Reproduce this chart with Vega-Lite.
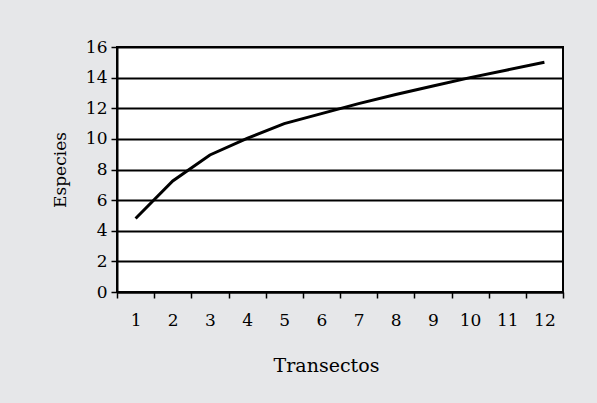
{
  "$schema": "https://vega.github.io/schema/vega-lite/v6.json",
  "autosize": "none",
  "width": 446,
  "height": 245,
  "padding": {"left": 117, "top": 47, "right": 34, "bottom": 111},
  "background": "#e6e7e9",
  "config": {
    "font": "DejaVu Serif",
    "view": {"stroke": "black", "strokeWidth": 2, "fill": "white"}
  },
  "data": {
    "values": [
      {"t": 1, "s": 4.8},
      {"t": 2, "s": 7.25},
      {"t": 3, "s": 8.95},
      {"t": 4, "s": 10.03},
      {"t": 5, "s": 11.0},
      {"t": 6, "s": 11.65},
      {"t": 7, "s": 12.3},
      {"t": 8, "s": 12.9},
      {"t": 9, "s": 13.45},
      {"t": 10, "s": 14.0},
      {"t": 11, "s": 14.5},
      {"t": 12, "s": 15.0}
    ]
  },
  "mark": {"type": "line", "color": "black", "strokeWidth": 3},
  "encoding": {
    "x": {
      "field": "t",
      "type": "ordinal",
      "scale": {"type": "band", "paddingInner": 0, "paddingOuter": 0},
      "axis": {
        "title": "Transectos",
        "titleFontSize": 19,
        "titleFontWeight": "normal",
        "titleColor": "black",
        "titleX": 209,
        "titleY": 73,
        "titleAlign": "center",
        "titleBaseline": "middle",
        "labelAngle": 0,
        "labelFontSize": 17,
        "labelColor": "black",
        "labelPadding": 14,
        "tickBand": "extent",
        "tickColor": "black",
        "tickSize": 6,
        "tickWidth": 1.5,
        "domainColor": "black",
        "domainWidth": 2,
        "grid": false
      }
    },
    "y": {
      "field": "s",
      "type": "quantitative",
      "scale": {"domain": [0, 16], "nice": false},
      "axis": {
        "title": "Especies",
        "titleFontSize": 17,
        "titleFontWeight": "normal",
        "titleColor": "black",
        "titlePadding": 16,
        "values": [0, 2, 4, 6, 8, 10, 12, 14, 16],
        "labelFontSize": 17,
        "labelColor": "black",
        "labelPadding": 4,
        "tickColor": "black",
        "tickSize": 6,
        "tickWidth": 1.5,
        "domainColor": "black",
        "domainWidth": 2,
        "grid": true,
        "gridColor": "black",
        "gridWidth": 2,
        "gridOpacity": 1
      }
    }
  }
}
